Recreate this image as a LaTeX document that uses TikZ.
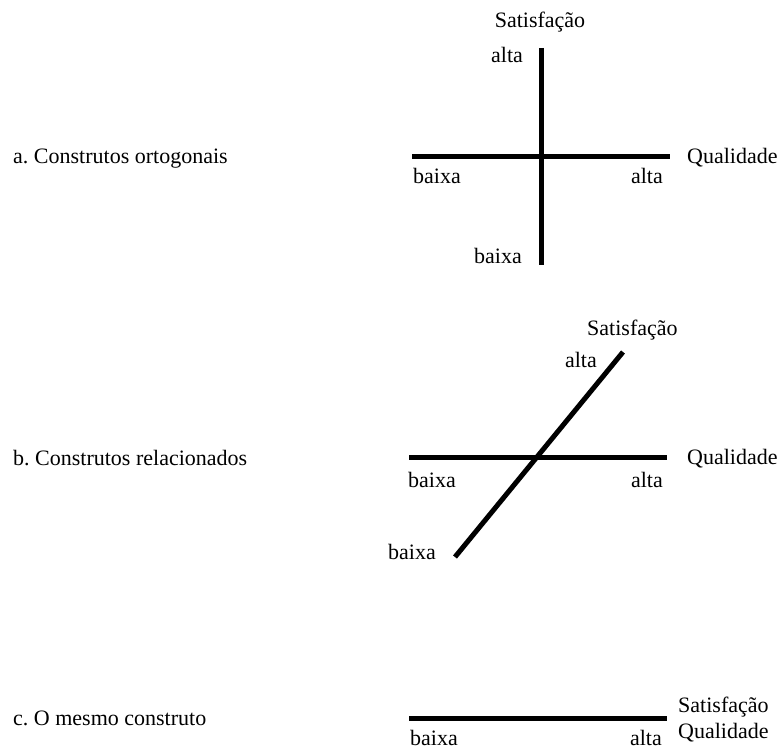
\documentclass[tikz,border=0pt]{standalone}
\usepackage{fontspec}
\setmainfont{Liberation Serif}
\begin{document}
\frenchspacing
\begin{tikzpicture}[x=1pt,y=-1pt,
  lbl/.style={inner sep=0pt,font=\fontsize{22}{26}\selectfont},
  axis/.style={line width=5pt,line cap=butt}]
\useasboundingbox (0,0) rectangle (783,749);
% panel a
\node[lbl,anchor=base west] (ta) at (13,163) {a. Construtos ortogonais};
\coordinate (ahl) at (412,156);
\coordinate (ahr) at (670,156);
\coordinate (avt) at (541,48);
\coordinate (avb) at (541,265);
\draw[axis] (ahl) -- (ahr);
\draw[axis] (avt) -- (avb);
\node[lbl,anchor=base] (asat) at (540,28) {Satisfação};
\node[lbl,anchor=base] (aalt1) at (507,63) {alta};
\node[lbl,anchor=base west] (aqual) at (687,163) {Qualidade};
\node[lbl,anchor=base west] (abx1) at (413,183) {baixa};
\node[lbl,anchor=base east] (aalt2) at (663,183) {alta};
\node[lbl,anchor=base east] (abx2) at (522,263) {baixa};
% panel b
\node[lbl,anchor=base west] (tb) at (13,465) {b. Construtos relacionados};
\coordinate (bhl) at (409,457);
\coordinate (bhr) at (667,457);
\coordinate (bdb) at (455,557);
\coordinate (bdt) at (623,352);
\draw[axis] (bhl) -- (bhr);
\draw[axis] (bdb) -- (bdt);
\node[lbl,anchor=base west] (bsat) at (587,335) {Satisfação};
\node[lbl,anchor=base east] (balt1) at (597,367) {alta};
\node[lbl,anchor=base west] (bqual) at (687,464) {Qualidade};
\node[lbl,anchor=base west] (bbx1) at (408,487) {baixa};
\node[lbl,anchor=base east] (balt2) at (663,487) {alta};
\node[lbl,anchor=base west] (bbx2) at (388,559) {baixa};
% panel c
\node[lbl,anchor=base west] (tc) at (13,725) {c. O mesmo construto};
\coordinate (chl) at (409,718);
\coordinate (chr) at (667,718);
\draw[axis] (chl) -- (chr);
\node[lbl,anchor=base west] (csat) at (678,712) {Satisfação};
\node[lbl,anchor=base west] (cqual) at (678,738) {Qualidade};
\node[lbl,anchor=base west] (cbx) at (410,745) {baixa};
\node[lbl,anchor=base east] (calt) at (662,745) {alta};
\end{tikzpicture}
\end{document}
